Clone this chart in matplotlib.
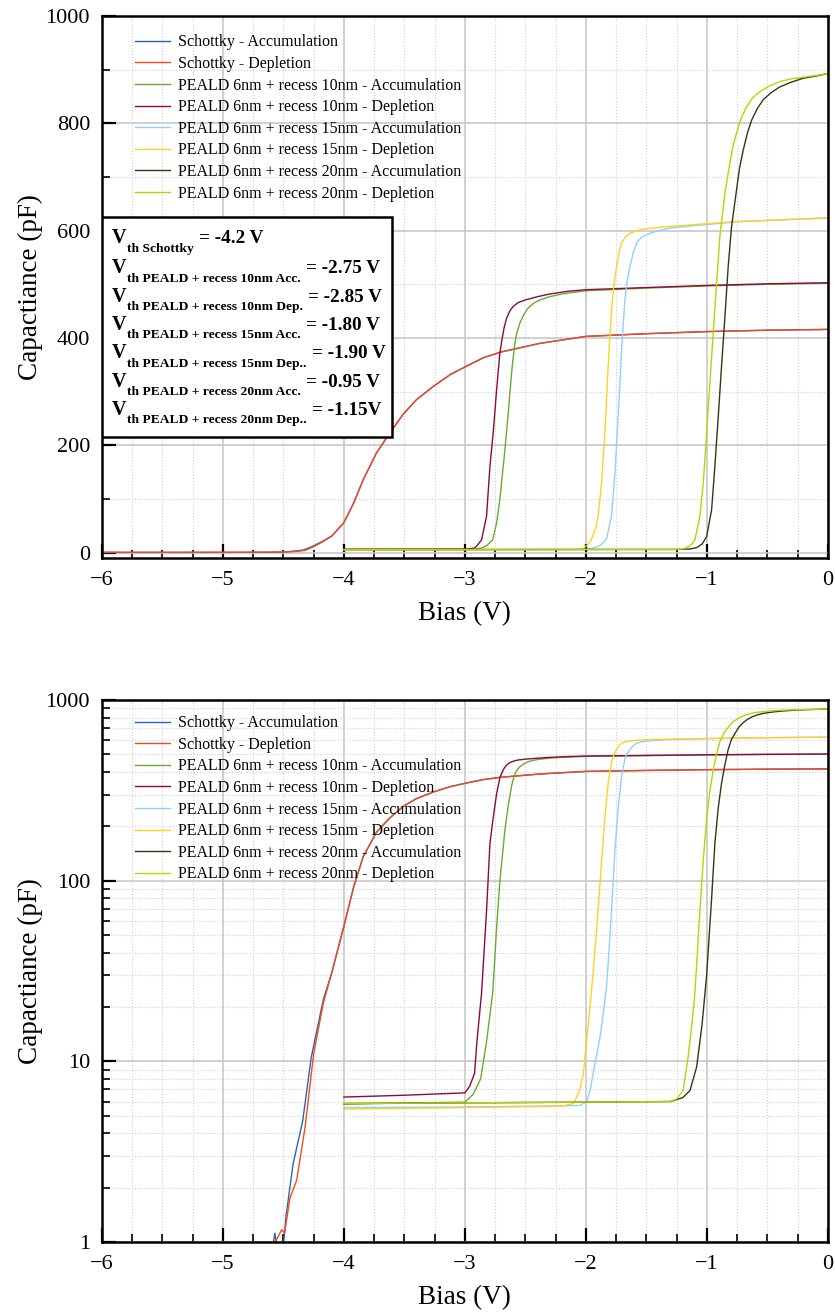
import matplotlib
matplotlib.use('Agg')
import matplotlib.pyplot as plt
from matplotlib.ticker import MultipleLocator, FuncFormatter, LogLocator
from matplotlib.patches import Rectangle
from matplotlib.transforms import IdentityTransform

plt.rcParams['font.family'] = 'Liberation Serif'

# Data (bias in V, capacitance in pF)
bias_sch_acc = [-6.0, -5.5, -5.0, -4.7, -4.6, -4.57, -4.55, -4.5, -4.479, -4.42, -4.34, -4.27,
                -4.17, -4.1, -4.0, -3.92, -3.84, -3.73, -3.62, -3.51, -3.4, -3.26, -3.12,
                -3.0, -2.85, -2.7, -2.5, -2.38, -2.0, -1.5, -1.0, -0.5, 0.0]
cap_sch_acc = [0.5, 0.55, 0.6, 0.75, 0.85, 1.12, 0.9, 0.95, 1.38, 2.7, 4.7, 10.5,
               22, 31, 56, 92, 136, 186, 223, 258, 285, 310, 332,
               346, 363, 374, 384, 390, 403, 408, 412, 414.5, 416]

bias_sch_dep = [-6.0, -5.5, -5.0, -4.7, -4.55, -4.515, -4.49, -4.446, -4.39, -4.32, -4.25,
                -4.17, -4.1, -4.0, -3.92, -3.84, -3.73, -3.62, -3.51, -3.4, -3.26, -3.12,
                -3.0, -2.85, -2.7, -2.5, -2.38, -2.0, -1.5, -1.0, -0.5, 0.0]
cap_sch_dep = [0.5, 0.55, 0.6, 0.75, 1.05, 1.17, 1.12, 1.75, 2.2, 4.35, 11.0,
               21, 31, 56, 92, 136, 186, 223, 258, 285, 310, 332,
               346, 363, 374, 384, 390, 403, 408, 412, 414.5, 416]

bias_10_acc = [-4.0, -3.5, -3.0, -2.93, -2.87, -2.82, -2.77, -2.738, -2.711, -2.669, -2.642,
               -2.614, -2.6, -2.587, -2.57, -2.545, -2.515, -2.477, -2.43, -2.38, -2.3, -2.2,
               -2.0, -1.5, -1.0, -0.5, 0.0]
cap_10_acc = [5.8, 5.88, 5.95, 6.6, 8.0, 13, 24, 55, 99, 192, 260,
              335, 365, 390, 410, 428, 443, 456, 465, 471, 477, 482,
              488, 493, 497, 500, 502]

bias_10_dep = [-4.0, -3.5, -3.0, -2.96, -2.92, -2.90, -2.862, -2.821, -2.793, -2.766, -2.738,
               -2.711, -2.695, -2.675, -2.655, -2.63, -2.6, -2.56, -2.5, -2.4, -2.3, -2.15,
               -2.0, -1.5, -1.0, -0.5, 0.0]
cap_10_dep = [6.35, 6.5, 6.7, 7.3, 8.6, 13, 24, 68, 161, 223, 303,
              372, 395, 420, 437, 450, 459, 466, 471, 477, 482, 487,
              490, 494, 498, 501, 503]

bias_15_acc = [-4.0, -3.0, -2.05, -1.99, -1.96, -1.94, -1.91, -1.884, -1.85, -1.829, -1.788,
               -1.76, -1.733, -1.705, -1.678, -1.66, -1.636, -1.61, -1.581, -1.54, -1.471,
               -1.4, -1.306, -0.755, 0.0]
cap_15_acc = [5.55, 5.6, 5.7, 6.0, 7.2, 8.6, 11, 13.5, 20, 26, 68,
              148, 254, 378, 471, 505, 533, 558, 577, 588, 595,
              600, 605, 616.5, 623.5]

bias_15_dep = [-4.0, -3.0, -2.2, -2.1, -2.05, -2.02, -1.994, -1.96, -1.92, -1.898, -1.87,
               -1.843, -1.816, -1.788, -1.77, -1.746, -1.725, -1.705, -1.675, -1.636, -1.58,
               -1.526, -1.306, -0.755, 0.0]
cap_15_dep = [5.45, 5.55, 5.65, 5.85, 7.0, 8.6, 13, 22, 45, 70, 130,
              223, 347, 452, 497, 533, 560, 577, 588, 595, 600,
              603, 608, 617, 624]

bias_20_acc = [-4.0, -3.0, -2.0, -1.3, -1.2, -1.14, -1.085, -1.04, -1.002, -0.961, -0.934,
               -0.906, -0.879, -0.851, -0.824, -0.796, -0.755, -0.73, -0.7, -0.665, -0.63,
               -0.585, -0.535, -0.47, -0.397, -0.3, -0.204, -0.1, 0.0]
cap_20_acc = [5.85, 5.9, 5.95, 6.0, 6.3, 6.9, 9.3, 16, 30, 80, 161,
              254, 347, 440, 533, 608, 676, 717, 750, 782, 806,
              827, 844, 857, 868, 877, 884, 888, 893]

bias_20_dep = [-4.0, -3.0, -2.0, -1.3, -1.25, -1.196, -1.155, -1.12, -1.099, -1.058, -1.03,
               -1.002, -0.975, -0.948, -0.92, -0.893, -0.851, -0.81, -0.785, -0.755, -0.72,
               -0.672, -0.62, -0.562, -0.48, -0.397, -0.3, -0.204, -0.1, 0.0]
cap_20_dep = [5.85, 5.9, 5.95, 6.0, 6.2, 6.9, 10.6, 17, 24, 68, 130,
              223, 316, 409, 502, 589, 670, 726, 757, 782, 808,
              831, 848, 859, 870, 878, 883, 886, 889, 893]

series = [
    ('Schottky - Accumulation', bias_sch_acc, cap_sch_acc, '#2c64ae'),
    ('Schottky - Depletion', bias_sch_dep, cap_sch_dep, '#f44a1c'),
    ('PEALD 6nm + recess 10nm - Accumulation', bias_10_acc, cap_10_acc, '#6aaa32'),
    ('PEALD 6nm + recess 10nm - Depletion', bias_10_dep, cap_10_dep, '#8b0a3a'),
    ('PEALD 6nm + recess 15nm - Accumulation', bias_15_acc, cap_15_acc, '#8fd0ff'),
    ('PEALD 6nm + recess 15nm - Depletion', bias_15_dep, cap_15_dep, '#ffd21f'),
    ('PEALD 6nm + recess 20nm - Accumulation', bias_20_acc, cap_20_acc, '#2f3a14'),
    ('PEALD 6nm + recess 20nm - Depletion', bias_20_dep, cap_20_dep, '#b5d600'),
]

vth_subs = ['th Schottky',
            'th PEALD + recess 10nm Acc.',
            'th PEALD + recess 10nm Dep.',
            'th PEALD + recess 15nm Acc.',
            'th PEALD + recess 15nm Dep..',
            'th PEALD + recess 20nm Acc.',
            'th PEALD + recess 20nm Dep..']
vth_values = ['= -4.2 V', '= -2.75 V', '= -2.85 V', '= -1.80 V',
              '= -1.90 V', '= -0.95 V', '= -1.15V']

W, H = 835, 1313
fig = plt.figure(figsize=(W / 100, H / 100), dpi=100)
ax1 = fig.add_axes([0.122, 0.575, 0.8695, 0.4128])
ax2 = fig.add_axes([0.122, 0.054, 0.8695, 0.4128])


def style_axes(ax):
    ax.set_xlim(-6, 0)
    ax.xaxis.set_major_locator(MultipleLocator(1))
    ax.xaxis.set_minor_locator(MultipleLocator(0.25))
    ax.grid(which='major', color='#c8c8c8', lw=1.2, ls='-', zorder=0)
    ax.grid(which='minor', color='#cfcfcf', lw=0.8, ls=':', zorder=0)
    ax.set_axisbelow(True)
    ax.tick_params(which='both', direction='in', top=False, right=False, labelsize=16)
    ax.tick_params(which='major', length=10, width=1.6)
    ax.tick_params(which='minor', length=5.5, width=1.2)
    ax.tick_params(axis='x', which='both', pad=9.5)
    ax.tick_params(axis='y', which='both', pad=8.5)
    for s in ax.spines.values():
        s.set_linewidth(1.8)
        s.set_color('black')
    ax.set_xlabel('Bias (V)', fontsize=19.5, labelpad=8)
    ax.set_ylabel('Capactiance (pF)', fontsize=19.5, labelpad=2)
    for name, x, y, c in series:
        ax.plot(x, y, color=c, lw=1.0, label=name)
    ax.legend(loc='upper left', frameon=False, fontsize=11.5, handlelength=2.2,
              handletextpad=0.5, labelspacing=0.35, borderpad=0, borderaxespad=0)


style_axes(ax1)
ax1.set_ylim(-10, 1000)
ax1.yaxis.set_major_locator(MultipleLocator(200))
ax1.yaxis.set_minor_locator(MultipleLocator(100))
ax1.get_legend().set_bbox_to_anchor((0.045, 0.966), transform=ax1.transAxes)

# Threshold voltage box
ax1.add_patch(Rectangle((0, 0.2232), 0.3994, 0.406, transform=ax1.transAxes,
                        facecolor='white', edgecolor='black', lw=1.8, zorder=5))
renderer = fig.canvas.get_renderer()
line_y = [243.3, 273.3, 301.7, 330, 358.3, 386.7, 415]
for sub, val, py in zip(vth_subs, vth_values, line_y):
    t1 = ax1.text(111.5, H - py, 'V', transform=IdentityTransform(), fontsize=14.5,
                  fontweight='bold', va='baseline', ha='left', zorder=6)
    x1 = t1.get_window_extent(renderer).x1
    t2 = ax1.text(x1 + 1, H - py - 8.4, sub, transform=IdentityTransform(), fontsize=9.7,
                  fontweight='bold', va='baseline', ha='left', zorder=6)
    x2 = t2.get_window_extent(renderer).x1
    ax1.text(x2 + 5, H - py, val, transform=IdentityTransform(), fontsize=13.8,
             fontweight='bold', va='baseline', ha='left', zorder=6)

style_axes(ax2)
ax2.set_yscale('log')
ax2.set_ylim(1, 1000)
ax2.yaxis.set_major_locator(LogLocator(base=10))
ax2.yaxis.set_minor_locator(LogLocator(base=10, subs=range(2, 10)))
ax2.yaxis.set_major_formatter(FuncFormatter(lambda v, p: '%g' % v))
ax2.yaxis.set_minor_formatter(FuncFormatter(lambda v, p: ''))
ax2.get_legend().set_bbox_to_anchor((0.045, 0.972), transform=ax2.transAxes)

fig.savefig('out.png', dpi=100)
